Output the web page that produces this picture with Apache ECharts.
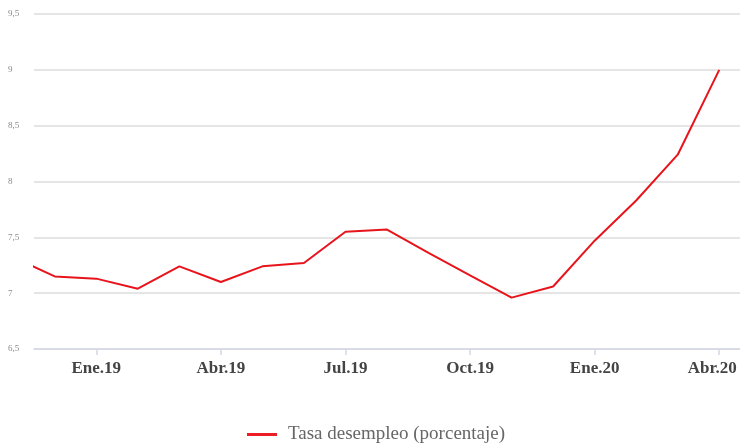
<!DOCTYPE html>
<html>
<head>
<meta charset="utf-8">
<script src="https://cdn.jsdelivr.net/npm/echarts@6/dist/echarts.min.js"></script>
<style>html,body{margin:0;padding:0;background:#fff;}#c{width:740px;height:446px;}</style>
</head>
<body>
<div id="c"></div>
<script>
// month index: 0 = Ene.19
var months = [-2, -1, 0, 1, 2, 3, 4, 5, 6, 7, 8, 9, 10, 11, 12, 13, 14, 15];
var tasa = [7.32, 7.15, 7.13, 7.04, 7.24, 7.10, 7.24, 7.27, 7.55, 7.57, 7.36, 7.16, 6.96, 7.06, 7.47, 7.83, 8.24, 9.00];
var tickMonths = [0, 3, 6, 9, 12, 15];
var tickLabels = ["Ene.19", "Abr.19", "Jul.19", "Oct.19", "Ene.20", "Abr.20"];
var seriesName = "Tasa desempleo (porcentaje)";

var data = months.map(function (m, i) { return [m, tasa[i]]; });
var labelStyle = {fontFamily: 'Liberation Serif', fontSize: 17, fontWeight: 'bold', color: '#444'};
var chart = echarts.init(document.getElementById('c'), null, {renderer: 'canvas'});
chart.setOption({
  animation: false,
  backgroundColor: '#fff',
  grid: {left: 34, right: 0, top: 14, bottom: 97, containLabel: false, outerBoundsMode: 'none'},
  xAxis: {
    type: 'value', min: -1.5, max: 15.5,
    axisLine: {show: true, lineStyle: {color: '#d3d8e6', width: 1.5}},
    axisTick: {show: true, customValues: tickMonths, length: 6, lineStyle: {color: '#d3d8e6', width: 1.5}},
    splitLine: {show: false},
    axisLabel: {
      customValues: tickMonths, margin: 11,
      fontFamily: 'Liberation Serif', fontSize: 17, fontWeight: 'bold', color: '#444',
      formatter: function (v) {
        var i = tickMonths.indexOf(v);
        if (i < 0) return '';
        return i === tickLabels.length - 1 ? '{last|' + tickLabels[i] + '}' : tickLabels[i];
      },
      rich: {
        last: Object.assign({padding: [0, 14, 0, 0]}, labelStyle)
      }
    }
  },
  yAxis: {
    type: 'value', min: 6.5, max: 9.5, interval: 0.5,
    axisLine: {show: false}, axisTick: {show: false},
    splitLine: {show: true, lineStyle: {color: '#dcdcdc', width: 1.5}},
    axisLabel: {
      align: 'left', margin: 26, fontFamily: 'Liberation Serif', fontSize: 9, color: '#8a8a8a',
      formatter: function (v) { return String(v).replace('.', ','); }
    }
  },
  legend: {
    left: 247, top: 425, padding: 0, itemWidth: 30, itemHeight: 3, icon: 'rect',
    data: [{name: seriesName, itemStyle: {color: '#ee1c25'}}],
    textStyle: {fontFamily: 'Liberation Serif', fontSize: 19, color: '#666', padding: [0, 0, 0, 6]}
  },
  series: [{
    name: seriesName, type: 'line', data: data, showSymbol: false, symbol: 'none',
    clip: true, smooth: false,
    lineStyle: {color: '#e8141c', width: 2},
    itemStyle: {color: '#ee1c25'}
  }]
});
</script>
</body>
</html>
